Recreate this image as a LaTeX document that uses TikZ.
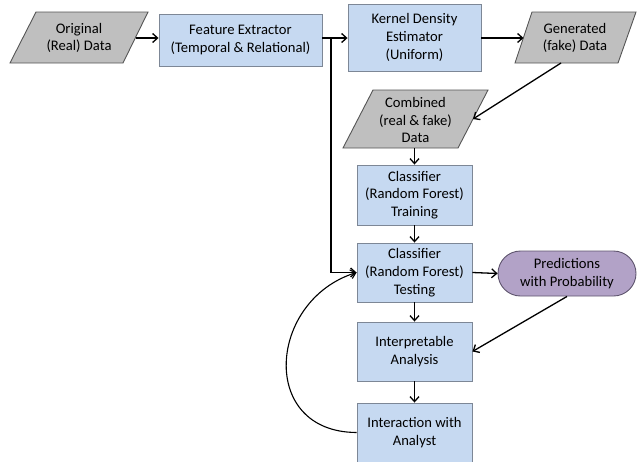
\documentclass[tikz,border=0pt]{standalone}
\usepackage{fontspec}
\setmainfont{Carlito}
\usetikzlibrary{arrows.meta,shapes.misc}

\definecolor{boxfill}{RGB}{198,217,241}
\definecolor{boxline}{RGB}{125,135,150}
\definecolor{datafill}{RGB}{191,191,191}
\definecolor{dataline}{RGB}{85,85,85}
\definecolor{predfill}{RGB}{178,162,199}
\definecolor{predline}{RGB}{95,85,110}

\begin{document}
\begin{tikzpicture}[x=1pt,y=-1pt,
  every node/.style={font=\fontsize{14.6}{17.8}\selectfont, align=center, inner sep=0pt},
  procbox/.style={rectangle, draw=boxline, fill=boxfill, line width=0.9pt},
  datashape/.style={draw=dataline, fill=datafill, line width=0.9pt},
  predbox/.style={rounded rectangle, draw=predline, fill=predfill, line width=0.9pt},
  arr/.style={-{Straight Barb[length=5pt,width=9pt]}, line width=1.3pt, black}]

\useasboundingbox (0,0) rectangle (637,461);

% data shapes (parallelograms)
\draw[datashape] (36,12) -- (148,12) -- (123,63) -- (10,63) -- cycle;
\node (orig) at (79,38) {Original\\(Real) Data};
\coordinate (origR) at (135.5,38);

\draw[datashape] (532,12) -- (636,12) -- (618,63) -- (515,63) -- cycle;
\node (gen) at (575,38) {Generated\\(fake) Data};
\coordinate (genL) at (523.5,38);
\coordinate (genB) at (561,63);

\draw[datashape] (373,90) -- (488,90) -- (458,148) -- (343,148) -- cycle;
\node (comb) at (415.5,120) {Combined\\(real \& fake)\\Data};
\coordinate (combR) at (473,119);
\coordinate (combB) at (414.5,148);

% processing steps
\node[procbox, minimum width=163pt, minimum height=52pt] (fe) at (240.5,40) {Feature Extractor\\(Temporal \& Relational)};
\node[procbox, minimum width=133pt, minimum height=67pt] (kde) at (414.5,37.5) {Kernel Density\\Estimator\\(Uniform)};
\node[procbox, minimum width=115pt, minimum height=60pt] (train) at (414.5,195) {Classifier\\(Random Forest)\\Training};
\node[procbox, minimum width=115pt, minimum height=59pt] (test) at (414.5,272.5) {Classifier\\(Random Forest)\\Testing};
\node[procbox, minimum width=115pt, minimum height=59pt] (interp) at (414.5,351.5) {Interpretable\\Analysis};
\node[procbox, minimum width=115pt, minimum height=59pt] (inter) at (414.5,432.5) {Interaction with\\Analyst};
\node[predbox, minimum width=138pt, minimum height=45pt] (pred) at (567,273.5) {Predictions\\with Probability};

% connectors
\coordinate (branch) at (331,38);
\draw[arr] (origR) -- (origR -| fe.west);
\draw[arr] (branch -| fe.east) -- (branch -| kde.west);
\draw[arr] (branch) |- (test.west);
\draw[arr] (kde.east |- genL) -- (genL);
\draw[arr] (genB) -- (combR);
\draw[arr] (combB) -- (train.north);
\draw[arr] (train.south) -- (test.north);
\draw[arr] (test.east) -- (pred.west);
\draw[arr] (test.south) -- (interp.north);
\draw[arr] (pred.south) -- (interp.east);
\draw[arr] (interp.south) -- (inter.north);
\draw[arr, line width=1.1pt] (inter.west) .. controls (258,432) and (268,300) .. (test.west);

\end{tikzpicture}
\end{document}
